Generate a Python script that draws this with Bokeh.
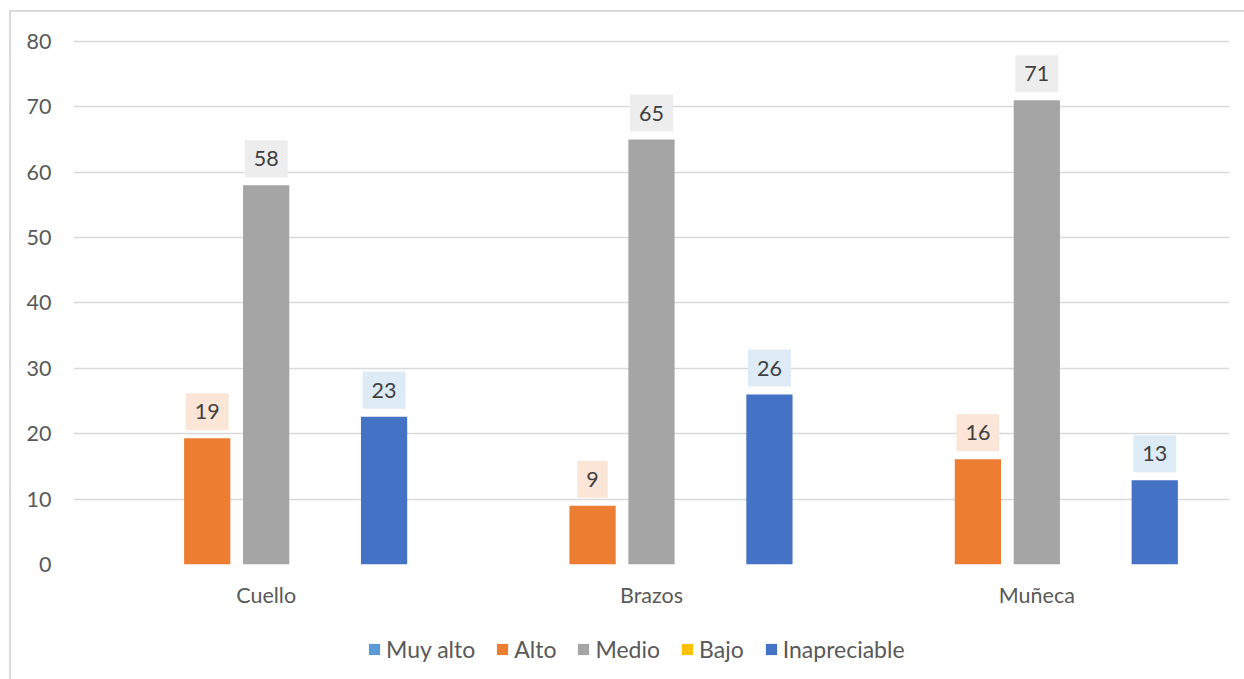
from bokeh.plotting import figure
from bokeh.layouts import column
from bokeh.models import FixedTicker, Legend, LegendItem, Label, Range1d
from bokeh.embed import file_html
from bokeh.resources import INLINE

categories = ["Cuello", "Brazos", "Muñeca"]
series_names = ["Muy alto", "Alto", "Medio", "Bajo", "Inapreciable"]
muy_alto = [0, 0, 0]
alto = [19.3, 9.0, 16.1]
medio = [58.0, 65.0, 71.0]
bajo = [0, 0, 0]
inapreciable = [22.6, 26.0, 12.9]
y_ticks = [0, 10, 20, 30, 40, 50, 60, 70, 80]

series_values = [muy_alto, alto, medio, bajo, inapreciable]
colors = ["#5B9BD5", "#ED7D31", "#A5A5A5", "#FFC000", "#4472C4"]
label_bg = ["#DEEBF7", "#FBE5D6", "#EDEDED", "#FFF2CC", "#DDEBF7"]
FONT = "Lato"
TXT = "#595959"
FS = "21.5px"
FS_LEG = "23px"

W, H_MAIN, H_LEG = 1244, 620, 59

p = figure(width=W, height=H_MAIN, output_backend="svg", toolbar_location=None,
           x_range=Range1d(0, len(categories)), y_range=Range1d(0, 80.3),
           min_border_left=73, min_border_right=15, min_border_top=39, min_border_bottom=56)
p.outline_line_color = None
p.background_fill_color = "white"
p.border_fill_color = None

step = 0.153
width = 0.12
for si, (name, vals) in enumerate(zip(series_names, series_values)):
    off = (si - 2) * step
    xs = [i + 0.5 + off for i in range(len(categories))]
    p.vbar(x=xs, top=vals, width=width, fill_color=colors[si], line_color=None)
    for x, v in zip(xs, vals):
        if v:
            p.add_layout(Label(x=x, y=v, y_offset=8, text=f"{v:.0f}", text_align="center",
                               text_baseline="bottom", text_font=FONT, text_font_size=FS,
                               text_color="#404040", background_fill_color=label_bg[si],
                               padding=dict(left=9, right=9, top=11, bottom=11)))

p.xaxis.ticker = FixedTicker(ticks=[i + 0.5 for i in range(len(categories))])
p.xaxis.major_label_overrides = {i + 0.5: c for i, c in enumerate(categories)}
p.yaxis.ticker = FixedTicker(ticks=y_ticks)
for ax in (p.xaxis, p.yaxis):
    ax.axis_line_color = None
    ax.major_tick_line_color = None
    ax.minor_tick_line_color = None
    ax.major_label_text_font = FONT
    ax.major_label_text_font_size = FS
    ax.major_label_text_color = TXT
p.xaxis.major_label_standoff = 11
p.yaxis.major_label_standoff = 16
p.xgrid.grid_line_color = None
p.ygrid.grid_line_color = "#D9D9D9"
p.ygrid.grid_line_width = 1.5

# legend strip
lf = figure(width=W, height=H_LEG, output_backend="svg", toolbar_location=None,
            x_range=Range1d(0, 1), y_range=Range1d(0, 1),
            x_axis_location=None, y_axis_location=None, min_border=0)
lf.outline_line_color = None
lf.background_fill_color = None
lf.border_fill_color = None
lf.grid.grid_line_color = None
items = []
for si, name in enumerate(series_names):
    r = lf.vbar(x=[0.5], top=[0], bottom=[0], width=0.01, fill_color=colors[si], line_color=None)
    items.append(LegendItem(label=name, renderers=[r]))
legend = Legend(items=items, orientation="horizontal", location=(294, 16),
                glyph_width=14, glyph_height=14, label_standoff=5, spacing=20,
                padding=0, margin=0, border_line_color=None, background_fill_alpha=0,
                label_text_font=FONT, label_text_font_size=FS_LEG, label_text_color=TXT)
lf.add_layout(legend, "center")

layout = column(p, lf, spacing=0)
layout.styles = {"background-color": "white",
                 "box-shadow": "inset 9px 10px 0 0 white, inset 11px 12px 0 0 #D9D9D9"}

open("out.html", "w").write(file_html(layout, INLINE))
